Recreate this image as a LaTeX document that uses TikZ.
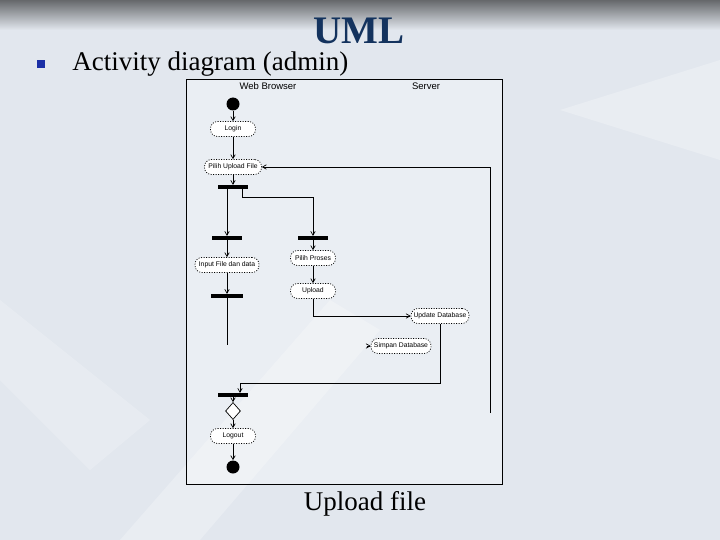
\documentclass[tikz,border=0pt]{standalone}
\usepackage{fontspec}
\setmainfont{Liberation Serif}
\setsansfont{Liberation Sans}
\usetikzlibrary{arrows}
\usetikzlibrary{calc}
\usetikzlibrary{shapes.geometric}

\definecolor{umlblue}{HTML}{14335E}
\definecolor{bulletblue}{HTML}{1B2FA6}
\definecolor{slidebg}{HTML}{E2E7EE}

\begin{document}
\begin{tikzpicture}[x=1pt,y=-1pt,>=angle 60,line width=0.7pt,
  act node/.style={draw,dash pattern=on 1pt off 1.5pt,fill=white,rounded corners=7pt,minimum width=45pt,minimum height=15pt,inner xsep=2pt,font=\sffamily\fontsize{6.8}{7}\selectfont},
  bar node/.style={fill=black,inner sep=0pt,minimum width=30pt,minimum height=3.5pt},
  dot node/.style={circle,fill=black,inner sep=0pt,minimum size=13pt},
  lane node/.style={font=\sffamily\fontsize{9.5}{10}\selectfont}]

  % slide background
  \useasboundingbox (0,0) rectangle (720,540);
  \fill[slidebg] (0,0) rectangle (720,540);
  \shade[top color=black!55!slidebg,bottom color=slidebg] (0,0) rectangle (720,30);
  \fill[white,opacity=0.25] (120,540) -- (330,300) -- (380,330) -- (200,540) -- cycle;
  \fill[white,opacity=0.25] (560,110) -- (720,60) -- (720,160) -- cycle;
  \fill[white,opacity=0.2] (0,300) -- (150,420) -- (90,470) -- (0,380) -- cycle;

  % headings
  \node[anchor=base,font=\bfseries\fontsize{39}{39}\selectfont,text=umlblue] (title) at (359,44) {UML};
  \node[fill=bulletblue,minimum size=8pt,inner sep=0pt] (bullet) at (41,64) {};
  \node[anchor=base west,inner sep=0pt,font=\fontsize{27}{27}\selectfont] (sub) at (72,71) {Activity diagram (admin)};
  \node[anchor=base,font=\fontsize{27}{27}\selectfont] (caption) at (365,510) {Upload file};

  % frame and lanes
  \draw[line width=0.8pt,fill=white,fill opacity=0.3] (186,79) rectangle (502,484);
  \node[lane node] (web) at (268,86) {Web Browser};
  \node[lane node] (srv) at (426,86) {Server};

  % activities
  \node[dot node] (start) at (233,104) {};
  \node[act node] (login) [below of=start,node distance=25pt] {Login};
  \node[act node,minimum width=57pt] (pilih) [below of=login,node distance=38pt] {Pilih Upload File};
  \node[bar node] (bar1) [below of=pilih,node distance=20pt] {};

  \node[bar node] (bar2) at (227,238) {};
  \node[act node,minimum width=64pt] (input) [below of=bar2,node distance=27pt] {Input File dan data};
  \node[bar node,minimum width=32pt] (bar4) [below of=input,node distance=31pt] {};

  \node[bar node] (bar3) at (313,238) {};
  \node[act node] (proses) [below of=bar3,node distance=20pt] {Pilih Proses};
  \node[act node] (upload) [below of=proses,node distance=33pt] {Upload};

  \node[act node,minimum width=58pt] (update) at (440,316) {Update Database};
  \node[act node,minimum width=60pt] (simpan) at (401,346) {Simpan Database};

  \node[bar node] (bar5) at (233,395) {};
  \node[diamond,draw,fill=white,inner sep=0pt,minimum width=15pt,minimum height=17pt] (cek) [below of=bar5,node distance=16pt] {};
  \node[act node] (logout) [below of=cek,node distance=25pt] {Logout};
  \node[dot node] (end) [below of=logout,node distance=31pt] {};

  \coordinate (k1) at (490,413);
  \coordinate (k2) at (240,383);
  \coordinate (k3) at (227,345);

  % connectors
  \begin{scope}[->]
  \draw (start) -- (login);
  \draw (login) -- (pilih);
  \draw (pilih) -- (bar1);
  \draw (bar2 |- bar1.south) -- (bar2.north);
  \draw ([xshift=-6pt]bar1.south east) -- ++(0,8) -| (bar3.north);
  \draw (bar2) -- (input);
  \draw (input) -- (bar4);
  \draw (bar3) -- (proses);
  \draw (proses) -- (upload);
  \draw (upload.south) |- (update.west);
  \draw (update.south) |- (k2) -- (k2 |- bar5.north);
  \draw ([xshift=-4pt]simpan.west) -- (simpan.west);
  \draw (k1) |- (pilih.east);
  \draw (bar5) -- (cek);
  \draw (cek) -- (logout);
  \draw (logout) -- (end);
  \end{scope}
  \draw (bar4.south) -- (bar4.south |- k3);

\end{tikzpicture}
\end{document}
